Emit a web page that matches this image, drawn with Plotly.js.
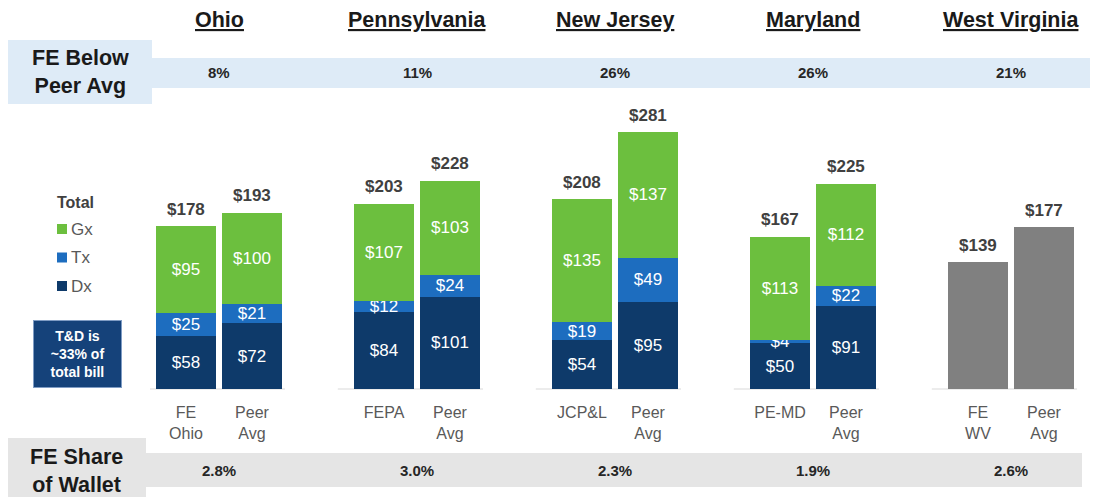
<!DOCTYPE html>
<html>
<head>
<meta charset="utf-8">
<script src="https://cdn.plot.ly/plotly-3.0.1.min.js"></script>
<style>html,body{margin:0;padding:0;background:#fff;}#chart{width:1094px;height:497px;}</style>
</head>
<body>
<div id="chart"></div>
<script>
// ---- data ----
const states = ['Ohio', 'Pennsylvania', 'New Jersey', 'Maryland', 'West Virginia'];
const feBelowPeer = ['8%', '11%', '26%', '26%', '21%'];
const feShareWallet = ['2.8%', '3.0%', '2.3%', '1.9%', '2.6%'];
const barLabels = ['FE<br>Ohio', 'Peer<br>Avg', 'FEPA', 'Peer<br>Avg', 'JCP&L', 'Peer<br>Avg', 'PE-MD', 'Peer<br>Avg', 'FE<br>WV', 'Peer<br>Avg'];
const seriesNames = ['Gx', 'Tx', 'Dx'];
const dx = [58, 72, 84, 101, 54, 95, 50, 91];
const tx = [25, 21, 12, 24, 19, 49, 4, 22];
const gx = [95, 100, 107, 103, 135, 137, 113, 112];
const wvTotal = [139, 177];

// ---- layout helpers ----
const L = 150, R = 1090, T = 100, B = 389;
const W = R - L, H = B - T;
const px = p => (p - L) / W;
const py = p => (B - p) / H;
const xPos = i => Math.floor(i / 2) * 3 + (i % 2);
const groupCenter = g => g * 3 + 0.5;

const stackedX = dx.map((_, i) => xPos(i));
const wvX = wvTotal.map((_, i) => xPos(8 + i));
const allX = barLabels.map((_, i) => xPos(i));
const totals = dx.map((v, i) => v + tx[i] + gx[i]).concat(wvTotal);

const narrow = 'Liberation Sans Narrow, Arial Narrow, Liberation Sans, Arial, sans-serif';
const sans = 'Liberation Sans, Arial, sans-serif';
const C_GX = '#6CBF3E', C_TX = '#1D6DBF', C_DX = '#0E3A6A', C_WV = '#808080';
const colors = {Gx: C_GX, Tx: C_TX, Dx: C_DX};

function seg(name, vals, color) {
  return {
    type: 'bar', name: name, x: stackedX, y: vals,
    marker: {color: color, line: {width: 0}},
    width: 0.91,
    text: vals.map(v => '$' + v), textposition: 'inside', insidetextanchor: 'middle',
    textangle: 0, constraintext: 'none',
    textfont: {family: narrow, size: 17, color: '#ffffff'},
    hoverinfo: 'skip', showlegend: false
  };
}

const data = [
  seg('Dx', dx, C_DX),
  seg('Tx', tx, C_TX),
  seg('Gx', gx, C_GX),
  {type: 'bar', name: 'Total', x: wvX, y: wvTotal, marker: {color: C_WV}, width: 0.91,
   showlegend: false, hoverinfo: 'skip'}
];

const annotations = [];
const shapes = [];

function ann(o) {
  return Object.assign({showarrow: false, xanchor: 'center', yanchor: 'middle'}, o);
}

// totals above bars
totals.forEach((v, i) => {
  annotations.push(ann({x: allX[i], xref: 'x', y: v, yref: 'y', yshift: 17, text: '<b>$' + v + '</b>',
    font: {family: narrow, size: 17, color: '#404040'}}));
});

// header state names and band values
states.forEach((s, g) => {
  annotations.push(ann({x: groupCenter(g), xref: 'x', y: py(20), yref: 'paper', text: '<b>' + s + '</b>',
    font: {family: sans, size: 21.5, color: '#1a1a1a', lineposition: 'under'}}));
  annotations.push(ann({x: groupCenter(g), xref: 'x', y: py(73), yref: 'paper', text: '<b>' + feBelowPeer[g] + '</b>',
    font: {family: sans, size: 15, color: '#262626'}}));
  annotations.push(ann({x: groupCenter(g), xref: 'x', y: py(470), yref: 'paper', text: '<b>' + feShareWallet[g] + '</b>',
    font: {family: sans, size: 15, color: '#262626'}}));
  shapes.push({type: 'line', xref: 'x', yref: 'paper', x0: g * 3 - 0.7, x1: g * 3 + 1.5, y0: 0, y1: 0,
    line: {color: '#d9d9d9', width: 1}, layer: 'below'});
});

// bands
shapes.push({type: 'rect', xref: 'paper', yref: 'paper', x0: px(150), x1: px(1090), y0: py(88), y1: py(58),
  fillcolor: '#DEEBF7', line: {width: 0}, layer: 'below'});
shapes.push({type: 'rect', xref: 'paper', yref: 'paper', x0: px(8), x1: px(152), y0: py(104), y1: py(40),
  fillcolor: '#DEEBF7', line: {width: 0}, layer: 'below'});
shapes.push({type: 'rect', xref: 'paper', yref: 'paper', x0: px(145), x1: px(1082), y0: py(487), y1: py(453),
  fillcolor: '#E5E5E5', line: {width: 0}, layer: 'below'});
shapes.push({type: 'rect', xref: 'paper', yref: 'paper', x0: px(8), x1: px(146), y0: py(499), y1: py(438),
  fillcolor: '#E5E5E5', line: {width: 0}, layer: 'below'});

annotations.push(ann({x: px(80), xref: 'paper', y: py(72), yref: 'paper', text: '<b>FE Below<br>Peer Avg</b>',
  font: {family: sans, size: 21.5, color: '#1a1a1a'}}));
annotations.push(ann({x: px(76), xref: 'paper', y: py(471), yref: 'paper', text: '<b>FE Share<br>of Wallet</b>',
  font: {family: sans, size: 21.5, color: '#1a1a1a'}}));

// custom legend
annotations.push(ann({x: px(55), xref: 'paper', xanchor: 'left', y: py(202), yref: 'paper', text: '<b>Total</b>',
  font: {family: sans, size: 16, color: '#404040'}}));
seriesNames.forEach((n, k) => {
  const cy = 229 + k * 28.5;
  shapes.push({type: 'rect', xref: 'paper', yref: 'paper', x0: px(57), x1: px(67), y0: py(cy + 5), y1: py(cy - 5),
    fillcolor: colors[n], line: {width: 0}});
  annotations.push(ann({x: px(69), xref: 'paper', xanchor: 'left', y: py(cy), yref: 'paper', text: n,
    font: {family: narrow, size: 17, color: '#595959'}}));
});

// T&D callout
annotations.push(ann({x: px(77.5), xref: 'paper', y: py(354), yref: 'paper',
  text: '<b>T&D is<br>~33% of<br>total bill</b>',
  width: 85, height: 64, bgcolor: '#15427A', bordercolor: '#7f9cc4', borderwidth: 1, borderpad: 1,
  font: {family: sans, size: 14, color: '#ffffff'}}));

const layout = {
  width: 1094, height: 497,
  margin: {l: L, r: 1094 - R, t: T, b: 497 - B, pad: 0},
  paper_bgcolor: '#ffffff', plot_bgcolor: '#ffffff',
  barmode: 'stack', bargap: 0,
  showlegend: false,
  xaxis: {range: [(L - 186) / 66, (R - 186) / 66], tickvals: allX, ticktext: barLabels,
    showgrid: false, zeroline: false, showline: false, ticks: '', ticklabelstandoff: 12,
    tickfont: {family: narrow, size: 16, color: '#595959'}, fixedrange: true},
  yaxis: {range: [0, H / 0.913], visible: false, showgrid: false, zeroline: false, fixedrange: true},
  annotations: annotations, shapes: shapes
};

Plotly.newPlot('chart', data, layout, {displayModeBar: false, staticPlot: true});
</script>
</body>
</html>
